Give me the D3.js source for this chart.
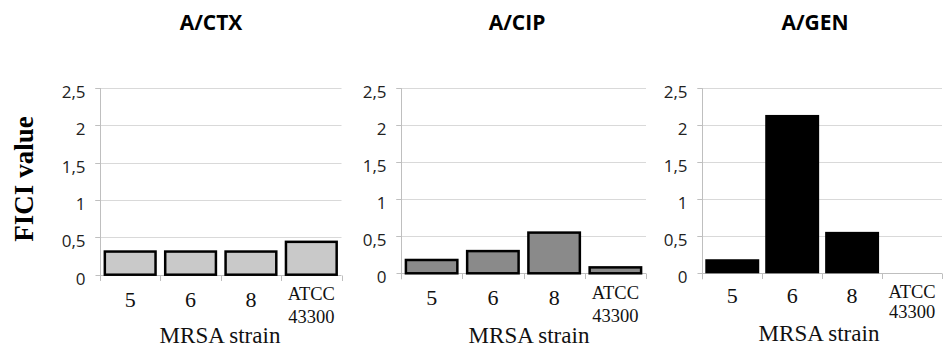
<!DOCTYPE html>
<html>
<head>
<meta charset="utf-8">
<script src="https://cdn.jsdelivr.net/npm/d3@7"></script>
<style>
  html, body { margin: 0; padding: 0; background: #fff; }
  svg { display: block; }
</style>
</head>
<body>
<svg id="chart" width="944" height="348"></svg>
<script>
// ---- data ----
const categories = ["5", "6", "8", "ATCC 43300"];
const titles = ["A/CTX", "A/CIP", "A/GEN"];
const ctxValues = [0.31, 0.31, 0.31, 0.44];
const cipValues = [0.18, 0.30, 0.55, 0.08];
const genValues = [0.19, 2.14, 0.56, 0];
const yTicks = [0, 0.5, 1, 1.5, 2, 2.5];
const yTickLabels = ["0", "0,5", "1", "1,5", "2", "2,5"];
const yLabel = "FICI value";
const xLabel = "MRSA strain";

// ---- layout / style (not data) ----
const panels = [
  { title: titles[0], values: ctxValues, x0: 100, x1: 341.5, yTop: 88, yBot: 274.7,
    fill: "#c9c9c9", stroke: "#000", sw: 2.5, pad: 0.16, titleX: 211,
    digitBase: 307, atccBase1: 299.5, atccBase2: 323, xLabelBase: 343, xLabelX: 220 },
  { title: titles[1], values: cipValues, x0: 401, x1: 646, yTop: 88.3, yBot: 273.3,
    fill: "#8a8a8a", stroke: "#000", sw: 2.5, pad: 0.16, titleX: 517,
    digitBase: 305, atccBase1: 299, atccBase2: 322, xLabelBase: 343, xLabelX: 529 },
  { title: titles[2], values: genValues, x0: 702.3, x1: 942, yTop: 88.3, yBot: 273.3,
    fill: "#000", stroke: "none", sw: 0, pad: 0.1, titleX: 815,
    digitBase: 303, atccBase1: 298, atccBase2: 318, xLabelBase: 341, xLabelX: 819 }
];

const svg = d3.select("#chart");

panels.forEach(p => {
  const g = svg.append("g");
  const x = d3.scaleBand().domain(categories).range([p.x0, p.x1]).paddingInner(p.pad).paddingOuter(p.pad / 2);
  const y = d3.scaleLinear().domain([0, 2.5]).range([p.yBot, p.yTop]);

  // gridlines
  g.selectAll("line.grid").data(yTicks.filter(t => t > 0)).join("line")
    .attr("x1", p.x0 - 5).attr("x2", p.x1)
    .attr("y1", d => Math.round(y(d)) + 0.5).attr("y2", d => Math.round(y(d)) + 0.5)
    .attr("stroke", "#d9d9d9").attr("stroke-width", 1);

  // y axis (ticks/labels via d3 axis)
  const yAxis = d3.axisLeft(y).tickValues(yTicks).tickSize(5).tickSizeOuter(0)
    .tickFormat((d, i) => yTickLabels[i]);
  const ya = g.append("g").attr("transform", `translate(${Math.round(p.x0) + 0.5},0)`).call(yAxis);
  ya.select(".domain").remove();
  ya.selectAll(".tick line").attr("stroke", "#bfbfbf");
  ya.selectAll(".tick text")
    .attr("x", -15).attr("dy", "0.55em")
    .attr("font-family", "'Open Sans', sans-serif").attr("font-size", 17).attr("fill", "#222");
  ya.selectAll(".tick").attr("transform", d => `translate(0,${Math.round(y(d)) + 0.5})`);

  // y axis line
  g.append("line")
    .attr("x1", Math.round(p.x0) + 0.5).attr("x2", Math.round(p.x0) + 0.5)
    .attr("y1", y(2.5)).attr("y2", p.yBot + 6)
    .attr("stroke", "#bfbfbf");

  // x axis line + boundary ticks
  g.append("line")
    .attr("x1", p.x0).attr("x2", p.x1)
    .attr("y1", Math.round(y(0)) + 0.5).attr("y2", Math.round(y(0)) + 0.5)
    .attr("stroke", "#bfbfbf");
  const step = (p.x1 - p.x0) / categories.length;
  const bounds = d3.range(categories.length + 1).map(i => p.x0 + i * step);
  g.selectAll("line.xt").data(bounds).join("line")
    .attr("x1", d => Math.round(d) + 0.5).attr("x2", d => Math.round(d) + 0.5)
    .attr("y1", Math.round(y(0)) + 0.5).attr("y2", Math.round(y(0)) + 6)
    .attr("stroke", "#bfbfbf");

  // bars
  g.selectAll("rect.bar").data(p.values.map((v, i) => ({ c: categories[i], v })))
    .join("rect")
    .attr("x", d => x(d.c)).attr("width", x.bandwidth())
    .attr("y", d => y(d.v)).attr("height", d => Math.max(0, y(0) - y(d.v)))
    .attr("fill", p.fill).attr("stroke", p.stroke).attr("stroke-width", p.sw)
    .style("display", d => d.v > 0 ? null : "none");

  // x category labels
  categories.forEach(c => {
    const cx = x(c) + x.bandwidth() / 2;
    const parts = c.split(" ");
    if (parts.length === 1) {
      g.append("text").attr("x", cx).attr("y", p.digitBase)
        .attr("text-anchor", "middle")
        .attr("font-family", "'Liberation Serif', 'Times New Roman', serif")
        .attr("font-size", 22).attr("fill", "#111").text(c);
    } else {
      const t = g.append("text").attr("text-anchor", "middle")
        .attr("font-family", "'Liberation Serif', 'Times New Roman', serif")
        .attr("font-size", 18.5).attr("fill", "#111");
      t.append("tspan").attr("x", cx).attr("y", p.atccBase1).text(parts[0]);
      t.append("tspan").attr("x", cx).attr("y", p.atccBase2).text(parts[1]);
    }
  });

  // x axis title
  g.append("text").attr("x", p.xLabelX).attr("y", p.xLabelBase)
    .attr("text-anchor", "middle")
    .attr("font-family", "'Liberation Serif', 'Times New Roman', serif")
    .attr("font-size", 23).attr("fill", "#111").text(xLabel);

  // panel title
  g.append("text").attr("x", p.titleX).attr("y", 30)
    .attr("text-anchor", "middle")
    .attr("font-family", "'Open Sans', sans-serif").attr("font-weight", "bold")
    .attr("font-size", 21).attr("fill", "#000").text(p.title);
});

// y axis label
svg.append("text")
  .attr("transform", "translate(33,179) rotate(-90)")
  .attr("text-anchor", "middle")
  .attr("font-family", "'Liberation Serif', 'Times New Roman', serif")
  .attr("font-weight", "bold").attr("font-size", 27).attr("fill", "#000")
  .text(yLabel);
</script>
</body>
</html>
